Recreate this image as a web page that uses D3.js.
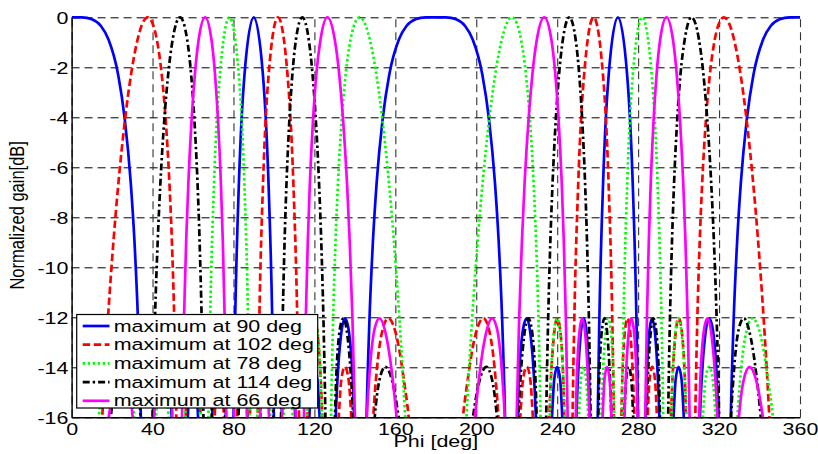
<!DOCTYPE html>
<html>
<head>
<meta charset="utf-8">
<script src="https://cdn.jsdelivr.net/npm/d3@7"></script>
<style>
  html, body { margin: 0; padding: 0; background: #fff; }
  svg { display: block; font-family: "Liberation Sans", Arial, Helvetica, sans-serif; }
</style>
</head>
<body>
<svg id="chart" width="818" height="454"></svg>
<script>
// Axis ticks
const xTicks = [0, 40, 80, 120, 160, 200, 240, 280, 320, 360];
const yTicks = [0, -2, -4, -6, -8, -10, -12, -14, -16];
const xLabel = "Phi [deg]";
const yLabel = "Normalized gain[dB]";

// Legend entries (one per beam)
const legendLabels = [
  "maximum at 90 deg",
  "maximum at 102 deg",
  "maximum at 78 deg",
  "maximum at 114 deg",
  "maximum at 66 deg"
];

// Normalized gain [dB] against Phi [deg]; values below -16 dB fall outside the axes
const gain90 = [
  [0,0],[5,-0.005],[10,-0.08],[14.49,-0.35],[18.19,-0.88],[23.01,-2.3],[26.29,-4.08],[29.23,-6.61],[31.05,-8.93],[32.77,-12.05],[34.22,-16],[35.22,-20.3],
  [39.28,-18.28],[41.12,-14.37],[43.16,-12.46],[44.87,-12.04],[47.02,-12.84],[49.47,-16.01],[50.42,-18.33],
  [56.55,-17.04],[58.5,-14.51],[60,-13.98],[61.48,-14.51],[63.33,-17.04],
  [68.72,-18.33],[69.5,-16.01],[71.44,-12.84],[73.07,-12.04],[74.3,-12.46],[75.72,-14.37],[76.94,-18.28],
  [79.45,-20.3],[80.03,-16],[80.84,-12.05],[82.69,-6.61],[85.44,-2.3],[90,0],[94.56,-2.3],[97.31,-6.61],[99.16,-12.05],[99.97,-16],[100.55,-20.3],
  [103.06,-18.28],[104.28,-14.37],[105.7,-12.46],[106.93,-12.04],[108.56,-12.84],[110.5,-16.01],[111.28,-18.33],
  [116.67,-17.04],[118.52,-14.51],[120,-13.98],[121.5,-14.51],[123.45,-17.04],
  [129.58,-18.33],[130.53,-16.01],[132.98,-12.84],[135.13,-12.04],[136.84,-12.46],[138.88,-14.37],[140.72,-18.28],
  [144.78,-20.3],[145.78,-16],[147.23,-12.05],[148.95,-8.93],[150.77,-6.61],[153.71,-4.08],[156.99,-2.3],[161.81,-0.88],[165.51,-0.35],[170,-0.08],[175,-0.005],[180,0],
  [185,-0.005],[190,-0.08],[194.49,-0.35],[198.19,-0.88],[203.01,-2.3],[206.29,-4.08],[209.23,-6.61],[211.05,-8.93],[212.77,-12.05],[214.22,-16],[215.22,-20.3],
  [219.28,-18.28],[221.12,-14.37],[223.16,-12.46],[224.87,-12.04],[227.02,-12.84],[229.47,-16.01],[230.42,-18.33],
  [236.55,-17.04],[238.5,-14.51],[240,-13.98],[241.48,-14.51],[243.33,-17.04],
  [248.72,-18.33],[249.5,-16.01],[251.44,-12.84],[253.07,-12.04],[254.3,-12.46],[255.72,-14.37],[256.94,-18.28],
  [259.45,-20.3],[260.03,-16],[260.84,-12.05],[262.69,-6.61],[265.44,-2.3],[270,0],[274.56,-2.3],[277.31,-6.61],[279.16,-12.05],[279.97,-16],[280.55,-20.3],
  [283.06,-18.28],[284.28,-14.37],[285.7,-12.46],[286.93,-12.04],[288.56,-12.84],[290.5,-16.01],[291.28,-18.33],
  [296.67,-17.04],[298.52,-14.51],[300,-13.98],[301.5,-14.51],[303.45,-17.04],
  [309.58,-18.33],[310.53,-16.01],[312.98,-12.84],[315.13,-12.04],[316.84,-12.46],[318.88,-14.37],[320.72,-18.28],
  [324.78,-20.3],[325.78,-16],[327.23,-12.05],[328.95,-8.93],[330.77,-6.61],[333.71,-4.08],[336.99,-2.3],[341.81,-0.88],[345.51,-0.35],[350,-0.08],[355,-0.005],[360,0]
];

const gain102 = [
  [12.81,-20.3],[15.15,-16],[17.97,-12.05],[20.72,-8.93],[23.16,-6.61],[26.42,-4.08],[29.35,-2.3],[32.64,-0.88],[34.52,-0.35],[37.62,0],[40.51,-0.35],[42.09,-0.88],[44.56,-2.3],[46.48,-4.08],[48.33,-6.61],[49.55,-8.93],[50.73,-12.05],[51.76,-16],[52.48,-20.3],
  [55.52,-18.28],[56.95,-14.37],[58.57,-12.46],[59.94,-12.04],[61.72,-12.84],[63.77,-16.01],[64.58,-18.33],
  [69.92,-17.04],[71.66,-14.51],[73.02,-13.98],[74.36,-14.51],[76.06,-17.04],
  [81.09,-18.33],[81.82,-16.01],[83.66,-12.84],[85.22,-12.04],[86.41,-12.46],[87.78,-14.37],[88.96,-18.28],
  [91.43,-20.3],[91.99,-16],[92.79,-12.05],[94.62,-6.61],[97.37,-2.3],[102,0],[106.71,-2.3],[109.59,-6.61],[111.53,-12.05],[112.4,-16],[113.01,-20.3],
  [115.72,-18.28],[117.04,-14.37],[118.59,-12.46],[119.94,-12.04],[121.75,-12.84],[123.92,-16.01],[124.8,-18.33],
  [131.05,-17.04],[133.27,-14.51],[135.07,-13.98],[136.92,-14.51],[139.38,-17.04],
  [147.68,-18.33],[149.07,-16.01],[150.89,-14.07],[152.82,-12.84],[156.44,-12.04],[159.61,-12.46],[162.41,-13.51],[163.99,-14.37],[166.62,-16],[169.08,-18.28],
  [190.92,-18.28],[193.38,-16],[196.01,-14.37],[197.59,-13.51],[200.39,-12.46],[203.56,-12.04],[207.18,-12.84],[209.11,-14.07],[210.93,-16.01],[212.32,-18.33],
  [220.62,-17.04],[223.08,-14.51],[224.93,-13.98],[226.73,-14.51],[228.95,-17.04],
  [235.2,-18.33],[236.08,-16.01],[238.25,-12.84],[240.06,-12.04],[241.41,-12.46],[242.96,-14.37],[244.28,-18.28],
  [246.99,-20.3],[247.6,-16],[248.47,-12.05],[250.41,-6.61],[253.29,-2.3],[258,0],[262.63,-2.3],[265.38,-6.61],[267.21,-12.05],[268.01,-16],[268.57,-20.3],
  [271.04,-18.28],[272.22,-14.37],[273.59,-12.46],[274.78,-12.04],[276.34,-12.84],[278.18,-16.01],[278.91,-18.33],
  [283.94,-17.04],[285.64,-14.51],[286.98,-13.98],[288.34,-14.51],[290.08,-17.04],
  [295.42,-18.33],[296.23,-16.01],[298.28,-12.84],[300.06,-12.04],[301.43,-12.46],[303.05,-14.37],[304.48,-18.28],
  [307.52,-20.3],[308.24,-16],[309.27,-12.05],[310.45,-8.93],[311.67,-6.61],[313.52,-4.08],[315.44,-2.3],[317.91,-0.88],[319.49,-0.35],[322.38,0],[325.48,-0.35],[327.36,-0.88],[330.65,-2.3],[333.58,-4.08],[336.84,-6.61],[339.28,-8.93],[342.03,-12.05],[344.85,-16],[347.19,-20.3]
];

const gain78 = [
  [10.92,-18.28],[13.38,-16],[16.01,-14.37],[17.59,-13.51],[20.39,-12.46],[23.56,-12.04],[27.18,-12.84],[29.11,-14.07],[30.93,-16.01],[32.32,-18.33],
  [40.62,-17.04],[43.08,-14.51],[44.93,-13.98],[46.73,-14.51],[48.95,-17.04],
  [55.2,-18.33],[56.08,-16.01],[58.25,-12.84],[60.06,-12.04],[61.41,-12.46],[62.96,-14.37],[64.28,-18.28],
  [66.99,-20.3],[67.6,-16],[68.47,-12.05],[70.41,-6.61],[73.29,-2.3],[78,0],[82.63,-2.3],[85.38,-6.61],[87.21,-12.05],[88.01,-16],[88.57,-20.3],
  [91.04,-18.28],[92.22,-14.37],[93.59,-12.46],[94.78,-12.04],[96.34,-12.84],[98.18,-16.01],[98.91,-18.33],
  [103.94,-17.04],[105.64,-14.51],[106.98,-13.98],[108.34,-14.51],[110.08,-17.04],
  [115.42,-18.33],[116.23,-16.01],[118.28,-12.84],[120.06,-12.04],[121.43,-12.46],[123.05,-14.37],[124.48,-18.28],
  [127.52,-20.3],[128.24,-16],[129.27,-12.05],[130.45,-8.93],[131.67,-6.61],[133.52,-4.08],[135.44,-2.3],[137.91,-0.88],[139.49,-0.35],[142.38,0],[145.48,-0.35],[147.36,-0.88],[150.65,-2.3],[153.58,-4.08],[156.84,-6.61],[159.28,-8.93],[162.03,-12.05],[164.85,-16],[167.19,-20.3],
  [192.81,-20.3],[195.15,-16],[197.97,-12.05],[200.72,-8.93],[203.16,-6.61],[206.42,-4.08],[209.35,-2.3],[212.64,-0.88],[214.52,-0.35],[217.62,0],[220.51,-0.35],[222.09,-0.88],[224.56,-2.3],[226.48,-4.08],[228.33,-6.61],[229.55,-8.93],[230.73,-12.05],[231.76,-16],[232.48,-20.3],
  [235.52,-18.28],[236.95,-14.37],[238.57,-12.46],[239.94,-12.04],[241.72,-12.84],[243.77,-16.01],[244.58,-18.33],
  [249.92,-17.04],[251.66,-14.51],[253.02,-13.98],[254.36,-14.51],[256.06,-17.04],
  [261.09,-18.33],[261.82,-16.01],[263.66,-12.84],[265.22,-12.04],[266.41,-12.46],[267.78,-14.37],[268.96,-18.28],
  [271.43,-20.3],[271.99,-16],[272.79,-12.05],[274.62,-6.61],[277.37,-2.3],[282,0],[286.71,-2.3],[289.59,-6.61],[291.53,-12.05],[292.4,-16],[293.01,-20.3],
  [295.72,-18.28],[297.04,-14.37],[298.59,-12.46],[299.94,-12.04],[301.75,-12.84],[303.92,-16.01],[304.8,-18.33],
  [311.05,-17.04],[313.27,-14.51],[315.07,-13.98],[316.92,-14.51],[319.38,-17.04],
  [327.68,-18.33],[329.07,-16.01],[330.89,-14.07],[332.82,-12.84],[336.44,-12.04],[339.61,-12.46],[342.41,-13.51],[343.99,-14.37],[346.62,-16],[349.08,-18.28]
];

const gain114 = [
  [17.03,-18.33],[19.37,-16.01],[24.28,-12.84],[27.81,-12.04],[30.25,-12.46],[32.86,-14.37],[34.07,-16],[34.99,-18.28],
  [39.08,-20.3],[39.97,-16],[41.2,-12.05],[42.57,-8.93],[43.9,-6.61],[45.84,-4.08],[47.71,-2.3],[49.96,-0.88],[53.61,0],[57.09,-0.88],[59.09,-2.3],[60.67,-4.08],[62.23,-6.61],[63.25,-8.93],[64.27,-12.05],[65.16,-16],[65.78,-20.3],
  [68.45,-18.28],[69.72,-14.37],[71.17,-12.46],[72.42,-12.04],[74.04,-12.84],[75.93,-16.01],[76.68,-18.33],
  [81.7,-17.04],[83.35,-14.51],[84.65,-13.98],[85.94,-14.51],[87.59,-17.04],
  [92.51,-18.33],[93.24,-16.01],[95.07,-12.84],[96.63,-12.04],[97.83,-12.46],[99.21,-14.37],[100.41,-18.28],
  [102.93,-20.3],[103.51,-16],[104.34,-12.05],[105.28,-8.93],[106.23,-6.61],[107.66,-4.08],[109.1,-2.3],[110.9,-0.88],[114,0],[117.18,-0.88],[119.1,-2.3],[120.68,-4.08],[122.28,-6.61],[123.37,-8.93],[124.46,-12.05],[125.44,-16],[126.14,-20.3],
  [129.25,-18.28],[130.8,-14.37],[132.63,-12.46],[134.27,-12.04],[136.47,-12.84],[139.19,-16.01],[140.32,-18.33],
  [148.82,-17.04],[149.8,-16],[152.15,-14.51],[155.06,-13.98],[158.32,-14.51],[161.65,-16],[163.32,-17.04],
  [196.68,-17.04],[198.35,-16],[201.68,-14.51],[204.94,-13.98],[207.85,-14.51],[210.2,-16],[211.18,-17.04],
  [219.68,-18.33],[220.81,-16.01],[223.53,-12.84],[225.73,-12.04],[227.37,-12.46],[229.2,-14.37],[230.75,-18.28],
  [233.86,-20.3],[234.56,-16],[235.54,-12.05],[236.63,-8.93],[237.72,-6.61],[239.32,-4.08],[240.9,-2.3],[242.82,-0.88],[246,0],[249.1,-0.88],[250.9,-2.3],[252.34,-4.08],[253.77,-6.61],[254.72,-8.93],[255.66,-12.05],[256.49,-16],[257.07,-20.3],
  [259.59,-18.28],[260.79,-14.37],[262.17,-12.46],[263.37,-12.04],[264.93,-12.84],[266.76,-16.01],[267.49,-18.33],
  [272.41,-17.04],[274.06,-14.51],[275.35,-13.98],[276.65,-14.51],[278.3,-17.04],
  [283.32,-18.33],[284.07,-16.01],[285.96,-12.84],[287.58,-12.04],[288.83,-12.46],[290.28,-14.37],[291.55,-18.28],
  [294.22,-20.3],[294.84,-16],[295.73,-12.05],[296.75,-8.93],[297.77,-6.61],[299.33,-4.08],[300.91,-2.3],[303.04,-0.88],[306.39,0],[310.04,-0.88],[312.29,-2.3],[314.16,-4.08],[316.1,-6.61],[317.43,-8.93],[318.8,-12.05],[320.03,-16],[320.92,-20.3],
  [325.01,-18.28],[325.93,-16],[327.14,-14.37],[329.75,-12.46],[332.19,-12.04],[335.72,-12.84],[340.63,-16.01],[342.97,-18.33]
];

const gain66 = [
  [16.68,-17.04],[18.35,-16],[21.68,-14.51],[24.94,-13.98],[27.85,-14.51],[30.2,-16],[31.18,-17.04],
  [39.68,-18.33],[40.81,-16.01],[43.53,-12.84],[45.73,-12.04],[47.37,-12.46],[49.2,-14.37],[50.75,-18.28],
  [53.86,-20.3],[54.56,-16],[55.54,-12.05],[56.63,-8.93],[57.72,-6.61],[59.32,-4.08],[60.9,-2.3],[62.82,-0.88],[66,0],[69.1,-0.88],[70.9,-2.3],[72.34,-4.08],[73.77,-6.61],[74.72,-8.93],[75.66,-12.05],[76.49,-16],[77.07,-20.3],
  [79.59,-18.28],[80.79,-14.37],[82.17,-12.46],[83.37,-12.04],[84.93,-12.84],[86.76,-16.01],[87.49,-18.33],
  [92.41,-17.04],[94.06,-14.51],[95.35,-13.98],[96.65,-14.51],[98.3,-17.04],
  [103.32,-18.33],[104.07,-16.01],[105.96,-12.84],[107.58,-12.04],[108.83,-12.46],[110.28,-14.37],[111.55,-18.28],
  [114.22,-20.3],[114.84,-16],[115.73,-12.05],[116.75,-8.93],[117.77,-6.61],[119.33,-4.08],[120.91,-2.3],[123.04,-0.88],[126.39,0],[130.04,-0.88],[132.29,-2.3],[134.16,-4.08],[136.1,-6.61],[137.43,-8.93],[138.8,-12.05],[140.03,-16],[140.92,-20.3],
  [145.01,-18.28],[145.93,-16],[147.14,-14.37],[149.75,-12.46],[152.19,-12.04],[155.72,-12.84],[160.63,-16.01],[162.97,-18.33],
  [197.03,-18.33],[199.37,-16.01],[204.28,-12.84],[207.81,-12.04],[210.25,-12.46],[212.86,-14.37],[214.07,-16],[214.99,-18.28],
  [219.08,-20.3],[219.97,-16],[221.2,-12.05],[222.57,-8.93],[223.9,-6.61],[225.84,-4.08],[227.71,-2.3],[229.96,-0.88],[233.61,0],[237.09,-0.88],[239.09,-2.3],[240.67,-4.08],[242.23,-6.61],[243.25,-8.93],[244.27,-12.05],[245.16,-16],[245.78,-20.3],
  [248.45,-18.28],[249.72,-14.37],[251.17,-12.46],[252.42,-12.04],[254.04,-12.84],[255.93,-16.01],[256.68,-18.33],
  [261.7,-17.04],[263.35,-14.51],[264.65,-13.98],[265.94,-14.51],[267.59,-17.04],
  [272.51,-18.33],[273.24,-16.01],[275.07,-12.84],[276.63,-12.04],[277.83,-12.46],[279.21,-14.37],[280.41,-18.28],
  [282.93,-20.3],[283.51,-16],[284.34,-12.05],[285.28,-8.93],[286.23,-6.61],[287.66,-4.08],[289.1,-2.3],[290.9,-0.88],[294,0],[297.18,-0.88],[299.1,-2.3],[300.68,-4.08],[302.28,-6.61],[303.37,-8.93],[304.46,-12.05],[305.44,-16],[306.14,-20.3],
  [309.25,-18.28],[310.8,-14.37],[312.63,-12.46],[314.27,-12.04],[316.47,-12.84],[319.19,-16.01],[320.32,-18.33],
  [328.82,-17.04],[329.8,-16],[332.15,-14.51],[335.06,-13.98],[338.32,-14.51],[341.65,-16],[343.32,-17.04]
];

// Line styles, in legend order
const series = [
  { label: legendLabels[0], data: gain90,  color: "#0000ff", dash: null },
  { label: legendLabels[1], data: gain102, color: "#ff0000", dash: "7.5,3.5" },
  { label: legendLabels[2], data: gain78,  color: "#00ff00", dash: "2.4,2.6" },
  { label: legendLabels[3], data: gain114, color: "#000000", dash: "7,3,2.4,3" },
  { label: legendLabels[4], data: gain66,  color: "#ff00ff", dash: null }
];

const FONT = 16.5;      // px
const STRETCH = 1.3;    // horizontal text stretch of the figure
const LINE_W = 2.7;

const svg = d3.select("#chart");
const box = { left: 71.6, right: 800, top: 17.3, bottom: 417.3 };
const plotW = box.right - box.left;
const plotH = box.bottom - box.top;

const x = d3.scaleLinear().domain([0, 360]).range([box.left, box.right]);
const y = d3.scaleLinear().domain([-16, 0]).range([box.bottom, box.top]);

svg.append("rect").attr("width", 818).attr("height", 454).attr("fill", "#fff");

// Dashed grid
const gridY = svg.append("g")
  .attr("transform", `translate(${box.left},0)`)
  .call(d3.axisLeft(y).tickValues(yTicks).tickSize(-plotW).tickFormat(""));
gridY.select(".domain").remove();
gridY.selectAll(".tick line")
  .attr("stroke", "#000").attr("stroke-width", 1).attr("stroke-dasharray", "8,5");

const gridX = svg.append("g")
  .attr("transform", `translate(0,${box.bottom})`)
  .call(d3.axisBottom(x).tickValues(xTicks).tickSize(-plotH).tickFormat(""));
gridX.select(".domain").remove();
gridX.selectAll(".tick line")
  .attr("stroke", "#333").attr("stroke-width", 1.1).attr("stroke-dasharray", "8,5");

// Curves, clipped to the axes box
svg.append("defs").append("clipPath").attr("id", "plot-clip")
  .append("rect")
  .attr("x", box.left).attr("y", box.top - 4)
  .attr("width", plotW).attr("height", plotH + 4);

const line = d3.line()
  .x(d => x(d[0]))
  .y(d => y(d[1]))
  .curve(d3.curveMonotoneX);

const curves = svg.append("g").attr("clip-path", "url(#plot-clip)");
series.forEach(s => {
  curves.append("path")
    .datum(s.data)
    .attr("d", line)
    .attr("fill", "none")
    .attr("stroke", s.color)
    .attr("stroke-width", LINE_W)
    .attr("stroke-linejoin", "round")
    .attr("stroke-dasharray", s.dash);
});

// Axes (left and bottom only)
const yAxis = svg.append("g")
  .attr("transform", `translate(${box.left},0)`)
  .call(d3.axisLeft(y).tickValues(yTicks).tickSize(0).tickSizeOuter(0).tickFormat(d => String(d)));
yAxis.select(".domain").attr("stroke", "#000").attr("stroke-width", 1.4);
yAxis.selectAll(".tick text")
  .attr("x", 0).attr("dy", "0.35em")
  .attr("text-anchor", "end")
  .attr("font-size", FONT)
  .attr("font-family", "Liberation Sans, Arial, sans-serif")
  .attr("fill", "#000")
  .attr("transform", `translate(-3.2,0) scale(${STRETCH},1)`);

const xAxis = svg.append("g")
  .attr("transform", `translate(0,${box.bottom})`)
  .call(d3.axisBottom(x).tickValues(xTicks).tickSize(0).tickSizeOuter(0).tickFormat(d => String(d)));
xAxis.select(".domain").attr("stroke", "#000").attr("stroke-width", 1.4);
xAxis.selectAll(".tick text")
  .attr("y", 0).attr("dy", 0)
  .attr("text-anchor", "middle")
  .attr("font-size", FONT)
  .attr("font-family", "Liberation Sans, Arial, sans-serif")
  .attr("fill", "#000")
  .attr("transform", `translate(0,17.3) scale(${STRETCH},1)`);

// Axis titles
svg.append("text")
  .attr("transform", `translate(${(box.left + box.right) / 2},446.5) scale(${STRETCH},1)`)
  .attr("text-anchor", "middle")
  .attr("font-size", FONT)
  .attr("fill", "#000")
  .text(xLabel);

svg.append("text")
  .attr("transform", `translate(24,${(box.top + box.bottom) / 2 - 2}) scale(1.2,1) rotate(-90)`)
  .attr("text-anchor", "middle")
  .attr("font-size", FONT)
  .attr("fill", "#000")
  .text(yLabel);

// Legend
const leg = { x: 76.7, y: 314.5, w: 241, h: 93.5, row0: 326, rowStep: 18.7 };
const legend = svg.append("g");
legend.append("rect")
  .attr("x", leg.x).attr("y", leg.y)
  .attr("width", leg.w).attr("height", leg.h)
  .attr("fill", "#fff").attr("stroke", "#000").attr("stroke-width", 1.2);

series.forEach((s, i) => {
  const ry = leg.row0 + i * leg.rowStep;
  legend.append("line")
    .attr("x1", 82.7).attr("x2", 109.5)
    .attr("y1", ry).attr("y2", ry)
    .attr("stroke", s.color)
    .attr("stroke-width", LINE_W)
    .attr("stroke-dasharray", s.dash);
  legend.append("text")
    .attr("transform", `translate(113.7,${ry + 5.5}) scale(${STRETCH},1)`)
    .attr("font-size", FONT)
    .attr("fill", "#000")
    .text(s.label);
});
</script>
</body>
</html>
